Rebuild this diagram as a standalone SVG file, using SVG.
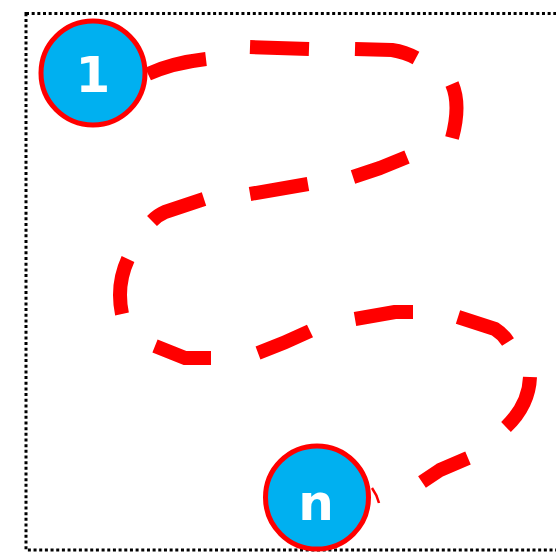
<svg xmlns="http://www.w3.org/2000/svg" width="556" height="552" viewBox="0 0 556 552">
<style>
.frame{fill:none;stroke:#000;stroke-width:3;stroke-dasharray:3 2.67}
.path{fill:none;stroke:#FF0000;stroke-width:14;stroke-linecap:butt;stroke-linejoin:round}
.node circle{fill:#00B0F0;stroke:#FF0000;stroke-width:5}
.node text{fill:#fff;font-family:"DejaVu Sans","Liberation Sans",sans-serif;font-weight:bold;font-size:50px;text-anchor:middle}
</style>
<rect class="frame" x="26" y="13.5" width="545" height="536.5"/>
<g id="connectors">
<path class="path" d="M148,74 Q172,63 206,59 M250,47 L309,49 M355,49 L392,50 Q405,52 416,58 M452,84 Q461,105 452,138 M407,157 L380,168 L353,177 M250,194 L308,184 M204,199 L165,212 Q158,215 152,221 M128,259 Q116,285 122,314 M155,346 L185,358 L211,358 M258,353 Q285,343 310,331 M355,319 L395,312 L413,312 M458,317 L495,329 Q503,334 508,342 M530,377 Q529,405 506,427 M468,458 L440,470 L422,482"/>
<path d="M372,488 Q377,495 379,503" fill="none" stroke="#FF0000" stroke-width="2.5"/>
</g>
<g id="node1" class="node">
<circle cx="93" cy="73" r="52"/>
<text x="93" y="92">1</text>
</g>
<g id="noden" class="node">
<circle cx="317" cy="497.5" r="51.5"/>
<text x="316" y="520">n</text>
</g>
</svg>
